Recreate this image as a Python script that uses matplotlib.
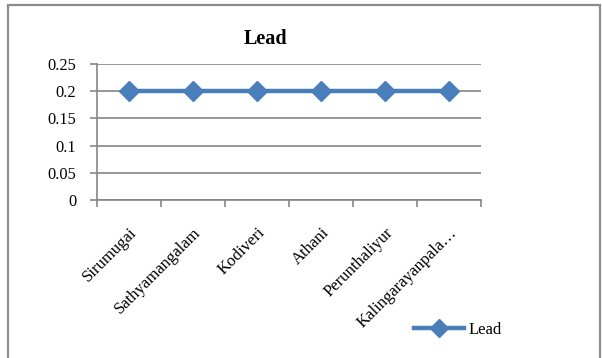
import matplotlib
matplotlib.use("Agg")
import matplotlib.pyplot as plt
from matplotlib.patches import Rectangle
from matplotlib.transforms import ScaledTranslation

# Lead concentration at each sampling site
sites = ["Sirumugai", "Sathyamangalam", "Kodiveri", "Athani",
         "Perunthaliyur", "Kalingarayanpala…"]
lead = [0.2, 0.2, 0.2, 0.2, 0.2, 0.2]
y_ticks = [0, 0.05, 0.1, 0.15, 0.2, 0.25]
y_tick_labels = ["0", "0.05", "0.1", "0.15", "0.2", "0.25"]

plt.rcParams["font.family"] = ["Liberation Serif", "DejaVu Serif"]

W, H = 602, 358
fig = plt.figure(figsize=(W / 100, H / 100), dpi=100)

# chart frame
fig.patches.append(Rectangle((8 / W, -0.05), (600 - 8) / W, (H - 5) / H + 0.05,
                             transform=fig.transFigure, fill=False,
                             edgecolor="#8c8c8c", linewidth=1.6))

left, right, top, bottom = 97, 481, 64, 200
ax = fig.add_axes([left / W, 1 - bottom / H, (right - left) / W, (bottom - top) / H])

x = list(range(len(sites)))
grid_color = "#868686"
ax.plot(x, lead, color="#4A7EBB", linewidth=3.2, marker="D", markersize=10.5,
        markeredgecolor="#4A7EBB", markerfacecolor="#4A7EBB", label="Lead",
        zorder=3, clip_on=False)

ax.set_xlim(-0.5, len(sites) - 0.5)
ax.set_ylim(0, 0.25)
ax.set_yticks(y_ticks)
ax.set_yticklabels(y_tick_labels, fontsize=11.8)
ax.yaxis.grid(True, color=grid_color, linewidth=1.2)
ax.set_axisbelow(True)

# category boundaries carry the x tick marks
ax.set_xticks([i - 0.5 for i in range(len(sites) + 1)], minor=False)
ax.set_xticklabels([])
ax.set_xticks(x, minor=True)
ax.set_xticklabels(sites, minor=True, rotation=45, ha="right", va="top",
                   rotation_mode="anchor", fontsize=12)
shift = ScaledTranslation(-4 / 100, 0, fig.dpi_scale_trans)
for lbl in ax.get_xticklabels(minor=True):
    lbl.set_transform(lbl.get_transform() + shift)
ax.tick_params(axis="x", which="major", length=5, color=grid_color, width=1.2)
ax.tick_params(axis="x", which="minor", length=0, pad=18)
ax.tick_params(axis="y", length=5, color=grid_color, width=1.2, pad=10)

for side in ("top", "right"):
    ax.spines[side].set_visible(False)
for side in ("left", "bottom"):
    ax.spines[side].set_color(grid_color)
    ax.spines[side].set_linewidth(1.2)

fig.text(265 / W, 1 - 39 / H, "Lead", ha="center", va="center",
         fontsize=14.5, fontweight="bold")

fig.legend(loc="center", bbox_to_anchor=(458 / W, 1 - 330 / H), frameon=False,
           fontsize=12, handlelength=3.0, handletextpad=0.3, markerscale=0.85)

fig.savefig("out.png", dpi=100)
